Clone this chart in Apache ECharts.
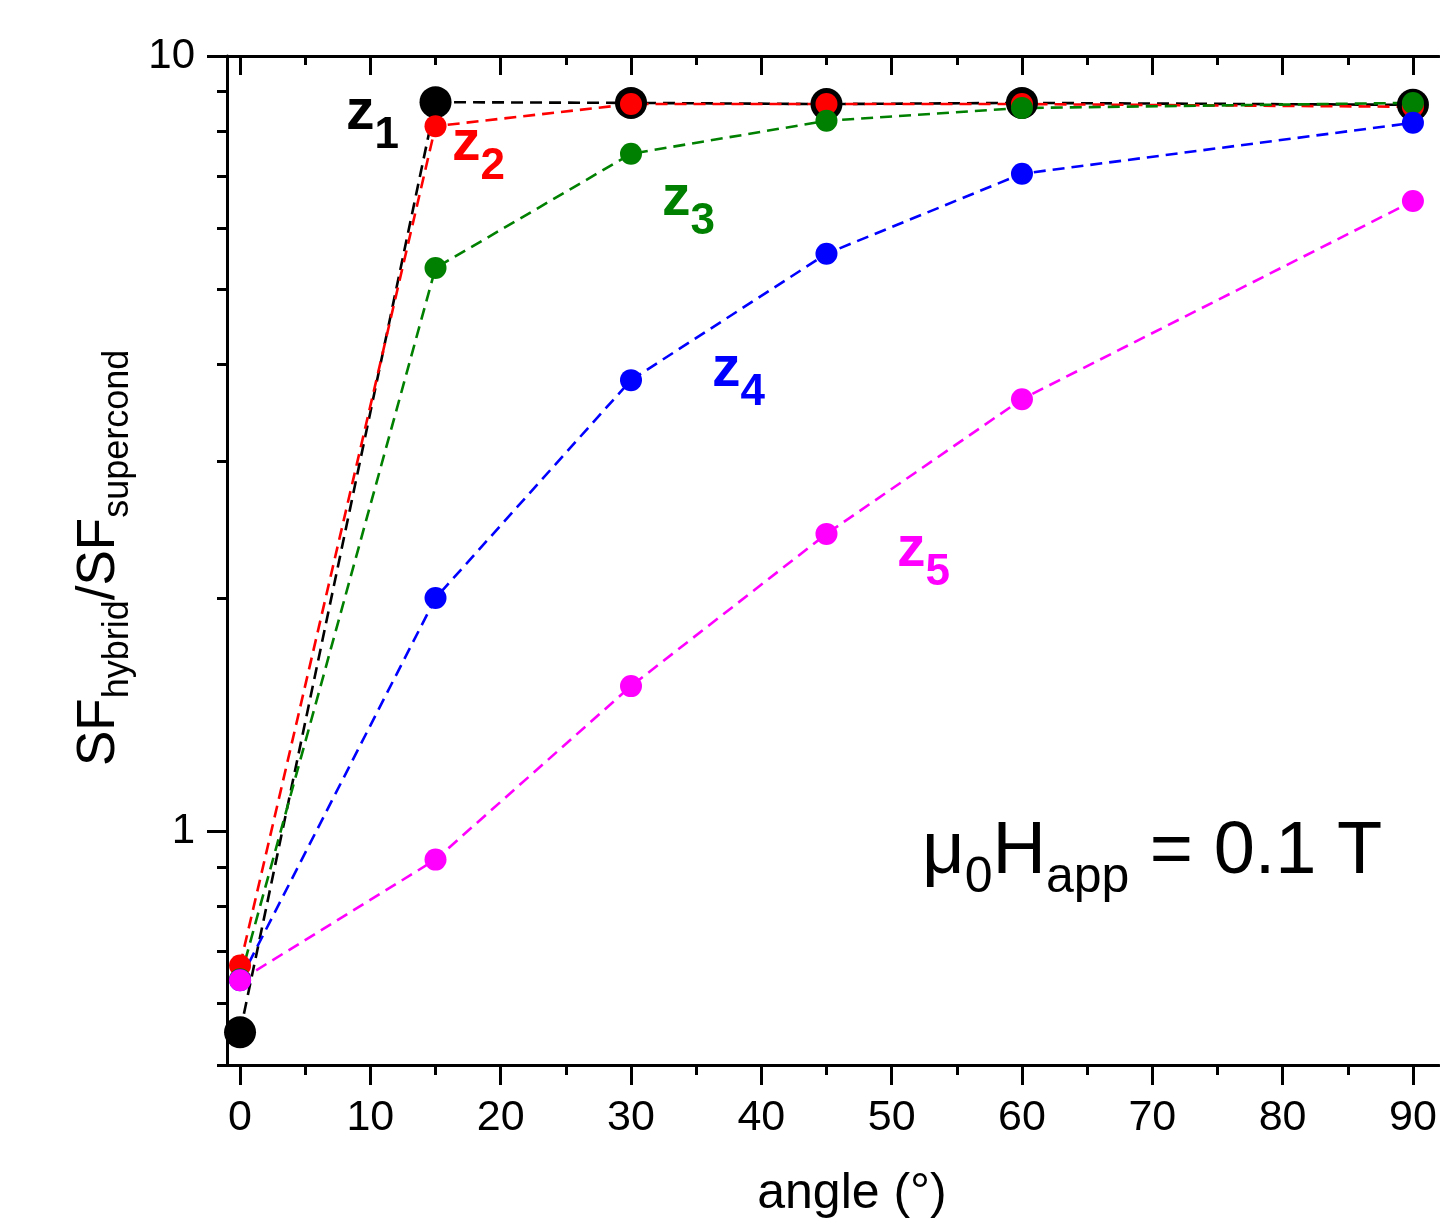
<!DOCTYPE html>
<html>
<head>
<meta charset="utf-8">
<script src="https://cdn.jsdelivr.net/npm/echarts@6/dist/echarts.min.js"></script>
<style>
  html, body { margin: 0; padding: 0; background: #fff; }
  #chart { width: 1440px; height: 1221px; }
</style>
</head>
<body>
<div id="chart"></div>
<script>
// angle (deg) and SF_hybrid / SF_supercond
const angles = [0, 15, 30, 45, 60, 90]
const z1 = [0.551, 8.72, 8.70, 8.67, 8.70, 8.65]
const z2 = [0.672, 8.12, 8.67, 8.67, 8.67, 8.60]
const z3 = [0.645, 5.33, 7.48, 8.25, 8.57, 8.70]
const z4 = [0.643, 2.00, 3.82, 5.56, 7.05, 8.20]
const z5 = [0.643, 0.920, 1.54, 2.42, 3.61, 6.50]

const xMajorTicks = [0, 10, 20, 30, 40, 50, 60, 70, 80, 90]
const xMinorTicks = [5, 15, 25, 35, 45, 55, 65, 75, 85]
const yMajorTicks = [1, 10]
const yMinorTicks = [0.5, 0.6, 0.7, 0.8, 0.9, 2, 3, 4, 5, 6, 7, 8, 9]

const FONT = '"Liberation Sans", Arial, sans-serif'
const black = '#000'

const measureCtx = document.createElement('canvas').getContext('2d')
function textWidth(str, size, bold) {
  measureCtx.font = (bold ? 'bold ' : '') + size + 'px ' + FONT
  return measureCtx.measureText(str).width
}

// text placed by its baseline
function txt(x, base, str, size, color, bold, align) {
  return {
    type: 'text',
    x: x,
    y: base - 0.35 * size,
    silent: true,
    style: {
      text: str,
      fill: color,
      font: (bold ? 'bold ' : '') + size + 'px ' + FONT,
      align: align || 'left',
      textAlign: align || 'left',
      verticalAlign: 'middle',
      textVerticalAlign: 'middle',
    },
  }
}

// a run of [text, isSub] parts laid out left to right
function run(x, base, parts, size, subSize, drop, color, bold) {
  const out = []
  let cx = x
  parts.forEach(([str, sub]) => {
    const s = sub ? subSize : size
    out.push(txt(cx, sub ? base + drop : base, str, s, color, bold))
    cx += textWidth(str, s, bold)
  })
  return out
}

function zLabel(x, base, n, color) {
  return run(x, base, [['z', false], [String(n), true]], 57, 44, 18, color, true)
}

function makeSeries(name, data, color, size) {
  return {
    name: name,
    type: 'line',
    data: angles.map((a, i) => [a, data[i]]),
    symbol: 'circle',
    symbolSize: size,
    itemStyle: { color: color },
    lineStyle: { color: color, width: 2.6, type: [12, 7] },
    clip: false,
    animation: false,
  }
}

const lineStyle = { color: black, width: 3 }

function xAxis(position, ticks, length, inside, showLine, showLabel) {
  return {
    type: 'value',
    position: position,
    min: -1,
    max: 92,
    axisLine: { show: showLine, onZero: false, lineStyle: lineStyle },
    axisTick: { show: true, customValues: ticks, length: length, inside: inside, lineStyle: lineStyle },
    axisLabel: {
      show: showLabel,
      customValues: ticks,
      fontSize: 43,
      fontFamily: FONT,
      color: black,
      margin: 32,
    },
    splitLine: { show: false },
  }
}

function yAxis(ticks, length, showLine, showLabel) {
  return {
    type: 'log',
    logBase: 10,
    position: 'left',
    min: 0.5,
    max: 10,
    axisLine: { show: showLine, onZero: false, lineStyle: lineStyle },
    axisTick: { show: true, customValues: ticks, length: length, inside: false, lineStyle: lineStyle },
    axisLabel: {
      show: showLabel,
      customValues: ticks,
      fontSize: 42,
      fontFamily: FONT,
      color: black,
      margin: 32,
      formatter: (v) => String(v),
    },
    splitLine: { show: false },
    minorTick: { show: false },
  }
}

const yTitle = {
  type: 'group',
  x: 118,
  y: 766,
  rotation: Math.PI / 2,
  children: run(0, 0, [['SF', false], ['hybrid', true], ['/SF', false], ['supercond', true]], 53, 36, 13, black, false),
}

const graphics = [
  ...zLabel(346, 133, 1, '#000000'),
  ...zLabel(452, 164, 2, '#ff0000'),
  ...zLabel(662, 219, 3, '#008000'),
  ...zLabel(712, 390, 4, '#0000ff'),
  ...zLabel(897, 570, 5, '#ff00ff'),
  ...run(922, 878, [['\u03bc', false], ['0', true], ['H', false], ['app', true], [' = 0.1 T', false]], 74, 50, 18, black, false),
  txt(852, 1212, 'angle (\u00b0)', 50, black, false, 'center'),
  yTitle,
]

const chart = echarts.init(document.getElementById('chart'), null, { renderer: 'canvas' })
chart.setOption({
  backgroundColor: '#fff',
  animation: false,
  grid: { left: 227, right: 1, top: 56, bottom: 156, containLabel: false, outerBoundsMode: 'none' },
  xAxis: [
    xAxis('bottom', xMajorTicks, 20, false, true, true),
    xAxis('bottom', xMinorTicks, 10, false, false, false),
    xAxis('top', xMajorTicks, 19, true, true, false),
    xAxis('top', xMinorTicks, 9, true, false, false),
  ],
  yAxis: [
    yAxis(yMajorTicks, 20, true, true),
    yAxis(yMinorTicks, 10, false, false),
  ],
  series: [
    makeSeries('z1', z1, '#000000', 32),
    makeSeries('z2', z2, '#ff0000', 22),
    makeSeries('z3', z3, '#008000', 22),
    makeSeries('z4', z4, '#0000ff', 22),
    makeSeries('z5', z5, '#ff00ff', 22),
  ],
  graphic: graphics,
})
</script>
</body>
</html>
